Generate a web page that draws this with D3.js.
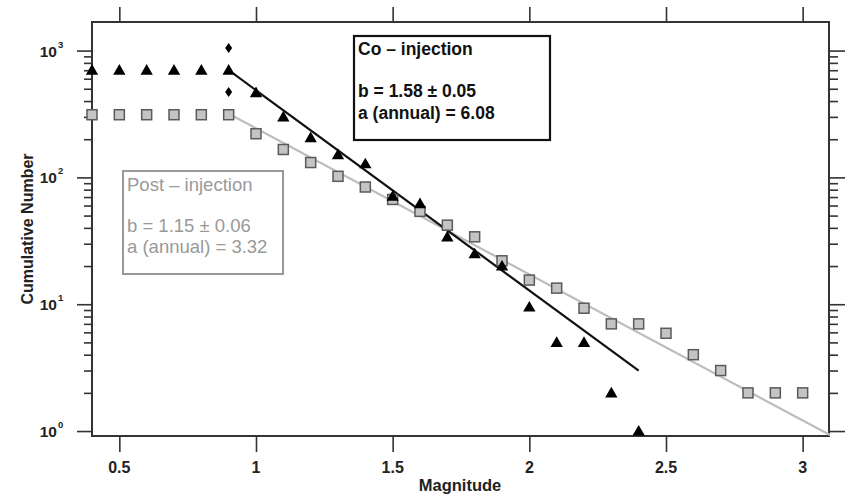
<!DOCTYPE html>
<html>
<head>
    <meta charset='utf-8'>
    <title>Cumulative magnitude distribution</title>
    <script src='https://cdn.jsdelivr.net/npm/d3@7'></script>
    <style>
        body { margin: 0; background: #fff; }
        text { font-family: 'Liberation Sans', Arial, sans-serif; }
    </style>
</head>
<body>
    <svg width='850' height='494'></svg>
    <script>
        // magnitude bins shared by both series
        const magsCo = [0.4, 0.5, 0.6, 0.7, 0.8, 0.9, 1.0, 1.1, 1.2, 1.3, 1.4, 1.5, 1.6, 1.7, 1.8, 1.9, 2.0, 2.1, 2.2, 2.3, 2.4]
        const countsCo = [700, 700, 700, 700, 700, 700, 465, 300, 206, 151, 128, 71, 62, 34, 25, 20, 9.5, 5, 5, 2, 1]

        const magsPost = [0.4, 0.5, 0.6, 0.7, 0.8, 0.9, 1.0, 1.1, 1.2, 1.3, 1.4, 1.5, 1.6, 1.7, 1.8, 1.9, 2.0, 2.1, 2.2, 2.3, 2.4, 2.5, 2.6, 2.7, 2.8, 2.9, 3.0]
        const countsPost = [312, 312, 312, 312, 312, 312, 221, 166, 131, 102, 84, 67, 54, 42, 34, 22, 15.5, 13.4, 9.3, 7, 7, 5.9, 4, 3, 2, 2, 2]

        // extra diamond points at M = 0.9
        const diamondMags = [0.9, 0.9]
        const diamondCounts = [1050, 472]

        // fitted lines (end points)
        const fitCoMags = [0.9, 2.4]
        const fitCoCounts = [700, 3.0]
        const fitPostMags = [0.9, 3.1]
        const fitPostCounts = [318, 0.93]

        const xTicks = [0.5, 1, 1.5, 2, 2.5, 3]
        const yMajor = [1, 10, 100, 1000]
        const yExp = ['0', '1', '2', '3']

        const coLabel = ['Co \u2013 injection', 'b = 1.58 \u00b1 0.05', 'a (annual) = 6.08']
        const postLabel = ['Post \u2013 injection', 'b = 1.15 \u00b1 0.06', 'a (annual) = 3.32']

        const svg = d3.select('svg')
        const plot = { left: 92, right: 829, top: 22, bottom: 436 }
        const axisColor = '#333'

        const x = d3.scaleLinear().domain([0.4, 3.1]).range([plot.left, plot.right + 1])
        const y = d3.scaleLog().domain([0.914, 1680]).range([plot.bottom, plot.top])

        const yMinor = []
        for (let p = 0; p < 4; p++) for (let k = 2; k <= 9; k++) {
            const v = k * Math.pow(10, p)
            if (v < 1680) yMinor.push(v)
        }

        // axes (ticks point outwards on all four sides)
        function styleAxis(g) {
            g.select('.domain').remove()
            g.selectAll('line').attr('stroke', axisColor).attr('stroke-width', 1.6)
            g.selectAll('text').remove()
        }
        svg.append('g').attr('transform', `translate(${plot.left},0)`)
            .call(d3.axisLeft(y).tickValues(yMajor).tickSize(15)).call(styleAxis)
        svg.append('g').attr('transform', `translate(${plot.left},0)`)
            .call(d3.axisLeft(y).tickValues(yMinor).tickSize(8)).call(styleAxis)
        svg.append('g').attr('transform', `translate(${plot.right},0)`)
            .call(d3.axisRight(y).tickValues(yMajor).tickSize(16)).call(styleAxis)
        svg.append('g').attr('transform', `translate(${plot.right},0)`)
            .call(d3.axisRight(y).tickValues(yMinor).tickSize(9)).call(styleAxis)
        svg.append('g').attr('transform', `translate(0,${plot.bottom})`)
            .call(d3.axisBottom(x).tickValues(xTicks).tickSize(16)).call(styleAxis)
        svg.append('g').attr('transform', `translate(0,${plot.top})`)
            .call(d3.axisTop(x).tickValues(xTicks).tickSize(15)).call(styleAxis)

        // frame
        svg.append('rect')
            .attr('x', plot.left).attr('y', plot.top)
            .attr('width', plot.right - plot.left).attr('height', plot.bottom - plot.top)
            .attr('fill', 'none').attr('stroke', axisColor).attr('stroke-width', 2)

        // tick labels
        svg.selectAll('.xlab').data(xTicks).enter().append('text')
            .attr('x', d => x(d)).attr('y', 473)
            .attr('text-anchor', 'middle').attr('font-size', 16).attr('font-weight', 'bold')
            .attr('fill', '#222')
            .text(d => d)

        svg.selectAll('.ylab').data(yMajor).enter().append('text')
            .attr('x', 57).attr('y', d => y(d) + 6)
            .attr('text-anchor', 'end').attr('font-size', 15.5).attr('font-weight', 'bold')
            .attr('fill', '#222')
            .text('10')
        svg.selectAll('.yexp').data(yMajor).enter().append('text')
            .attr('x', 58).attr('y', d => y(d) - 3)
            .attr('font-size', 9.5).attr('font-weight', 'bold').attr('fill', '#222')
            .text((d, i) => yExp[i])

        // axis titles
        svg.append('text')
            .attr('x', 460).attr('y', 491)
            .attr('text-anchor', 'middle').attr('font-size', 16.5).attr('font-weight', 'bold')
            .attr('fill', '#222').text('Magnitude')
        svg.append('text')
            .attr('transform', 'translate(33,229) rotate(-90)')
            .attr('text-anchor', 'middle').attr('font-size', 16).attr('font-weight', 'bold')
            .attr('fill', '#222').text('Cumulative Number')

        // fit lines
        const line = d3.line().x(d => x(d[0])).y(d => y(d[1]))
        svg.append('path')
            .attr('d', line(d3.zip(fitPostMags, fitPostCounts)))
            .attr('fill', 'none').attr('stroke', '#bdbdbd').attr('stroke-width', 2.2)
        svg.append('path')
            .attr('d', line(d3.zip(fitCoMags, fitCoCounts)))
            .attr('fill', 'none').attr('stroke', '#111').attr('stroke-width', 2.2)

        // post-injection squares
        svg.selectAll('.sq').data(d3.zip(magsPost, countsPost)).enter().append('rect')
            .attr('x', d => x(d[0]) - 5).attr('y', d => y(d[1]) - 5)
            .attr('width', 10).attr('height', 10)
            .attr('fill', '#c4c4c4').attr('stroke', '#5a5a5a').attr('stroke-width', 1.5)

        // co-injection triangles
        const tri = d3.symbol().type(d3.symbolTriangle).size(66)
        svg.selectAll('.tri').data(d3.zip(magsCo, countsCo)).enter().append('path')
            .attr('d', tri)
            .attr('transform', d => `translate(${x(d[0])},${y(d[1]) + 1})`)
            .attr('fill', '#000')

        // diamonds
        svg.selectAll('.dia').data(d3.zip(diamondMags, diamondCounts)).enter().append('path')
            .attr('d', 'M0,-5 L3.5,0 L0,5 L-3.5,0 Z')
            .attr('transform', d => `translate(${x(d[0])},${y(d[1])})`)
            .attr('fill', '#000')

        // annotation boxes
        function textBox(bx, by, bw, bh, lines, color, weight, size, strokeW, baselines) {
            const g = svg.append('g')
            g.append('rect').attr('x', bx).attr('y', by).attr('width', bw).attr('height', bh)
                .attr('fill', '#fff').attr('stroke', color).attr('stroke-width', strokeW)
            g.selectAll('text').data(lines).enter().append('text')
                .attr('x', bx + 4).attr('y', (d, i) => by + baselines[i])
                .attr('font-size', size).attr('font-weight', weight).attr('fill', color)
                .text(d => d)
        }
        textBox(354, 36, 196, 104, coLabel, '#111', 'bold', 17.5, 2.2, [19, 61, 83])
        textBox(123, 171, 160, 103, postLabel, '#999', 'normal', 18.5, 2, [20, 61, 82])
    </script>
</body>
</html>
